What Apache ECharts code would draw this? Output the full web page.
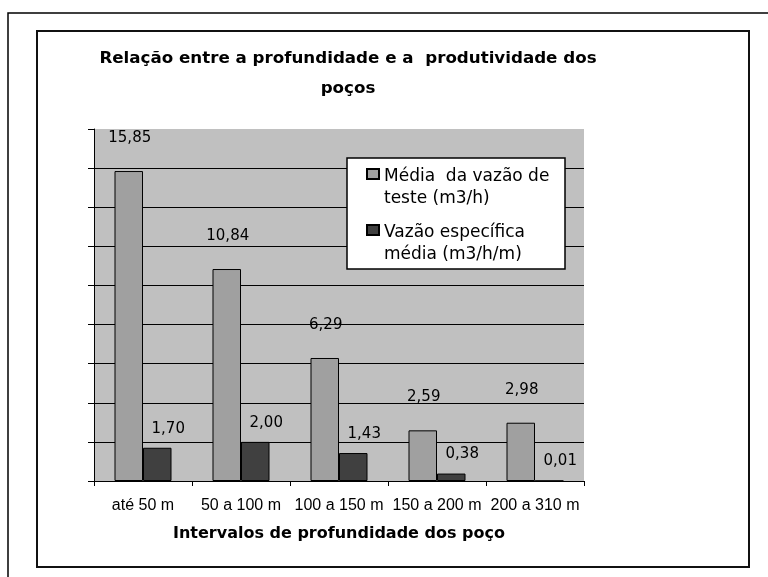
<!DOCTYPE html>
<html>
<head>
<meta charset="utf-8">
<script src="https://cdn.jsdelivr.net/npm/echarts@6/dist/echarts.min.js"></script>
<style>
    html, body { margin: 0; padding: 0; background: #fff; }
    #chart { width: 768px; height: 577px; }
</style>
</head>
<body>
<div id="chart"></div>
<script>
const categories = ['até 50 m', '50 a 100 m', '100 a 150 m', '150 a 200 m', '200 a 310 m']
const vazaoTeste = [15.85, 10.84, 6.29, 2.59, 2.98]
const vazaoEspecifica = [1.70, 2.00, 1.43, 0.38, 0.01]
const seriesNames = ['Média  da vazão de\nteste (m3/h)', 'Vazão específica\nmédia (m3/h/m)']

const chart = echarts.init(document.getElementById('chart'))
const fmt = p => p.value.toFixed(2).replace('.', ',')

const labelFont = {
    fontFamily: 'DejaVu Sans',
    fontSize: 15,
    lineHeight: 16,
    color: '#000'
}

chart.setOption({
    animation: false,
    backgroundColor: '#fff',
    title: {
        text: 'Relação entre a profundidade e a  produtividade dos\npoços',
        left: 348,
        top: 44,
        padding: 0,
        textAlign: 'center',
        textStyle: {
            fontFamily: 'DejaVu Sans',
            fontWeight: 'bold',
            fontSize: 16.7,
            lineHeight: 30,
            color: '#000'
        }
    },
    legend: {
        orient: 'vertical',
        left: 366,
        top: 166,
        padding: 0,
        itemWidth: 12,
        itemHeight: 38,
        itemGap: 12,
        // square at the top of a tall icon box, so it lines up with the first text line
        icon: 'path://M0,0H12V10H0Z M0,38',
        selectedMode: false,
        textStyle: {
            fontFamily: 'DejaVu Sans',
            fontSize: 17,
            lineHeight: 22,
            color: '#000'
        }
    },
    graphic: [
        {
            type: 'polyline',
            shape: { points: [[8, 577], [8, 13], [768, 13]] },
            style: { stroke: '#000', lineWidth: 1.5, fill: null }
        },
        {
            type: 'rect',
            shape: { x: 37, y: 31, width: 712, height: 536 },
            style: { stroke: '#111', lineWidth: 2, fill: null }
        },
        {
            type: 'rect',
            z: 3,
            shape: { x: 347, y: 158, width: 218, height: 111 },
            style: { stroke: '#000', lineWidth: 1.5, fill: '#fff' }
        }
    ],
    grid: {
        left: 94,
        right: 184,
        top: 129,
        bottom: 96,
        show: true,
        backgroundColor: '#c0c0c0',
        borderWidth: 0
    },
    xAxis: {
        type: 'category',
        data: categories,
        name: 'Intervalos de profundidade dos poço',
        nameLocation: 'middle',
        nameGap: 45,
        nameTextStyle: {
            fontFamily: 'DejaVu Sans',
            fontWeight: 'bold',
            fontSize: 16,
            color: '#000'
        },
        axisLine: { lineStyle: { color: '#000', width: 1 } },
        axisTick: { show: true, length: 5, lineStyle: { color: '#000' } },
        axisLabel: {
            margin: 17,
            fontFamily: 'Liberation Sans',
            fontSize: 16,
            color: '#000',
            interval: 0
        }
    },
    yAxis: {
        type: 'value',
        min: 0,
        max: 18,
        interval: 2,
        axisLine: { show: true, lineStyle: { color: '#000', width: 1 } },
        axisTick: { show: true, length: 6, lineStyle: { color: '#000' } },
        axisLabel: { show: false },
        splitLine: {
            show: true,
            showMaxLine: false,
            lineStyle: { color: '#000', width: 1 }
        }
    },
    series: [
        {
            name: seriesNames[0],
            type: 'bar',
            data: vazaoTeste,
            barWidth: 28.5,
            barGap: '0%',
            itemStyle: { color: '#a0a0a0', borderColor: '#000', borderWidth: 1 },
            label: {
                show: true,
                position: 'top',
                distance: 25,
                offset: [1, 0],
                formatter: fmt,
                ...labelFont
            }
        },
        {
            name: seriesNames[1],
            type: 'bar',
            data: vazaoEspecifica,
            barWidth: 28.5,
            itemStyle: { color: '#404040', borderColor: '#000', borderWidth: 1 },
            label: {
                show: true,
                position: 'top',
                distance: 11,
                offset: [11, 0],
                formatter: fmt,
                ...labelFont
            }
        }
    ]
})
</script>
</body>
</html>
